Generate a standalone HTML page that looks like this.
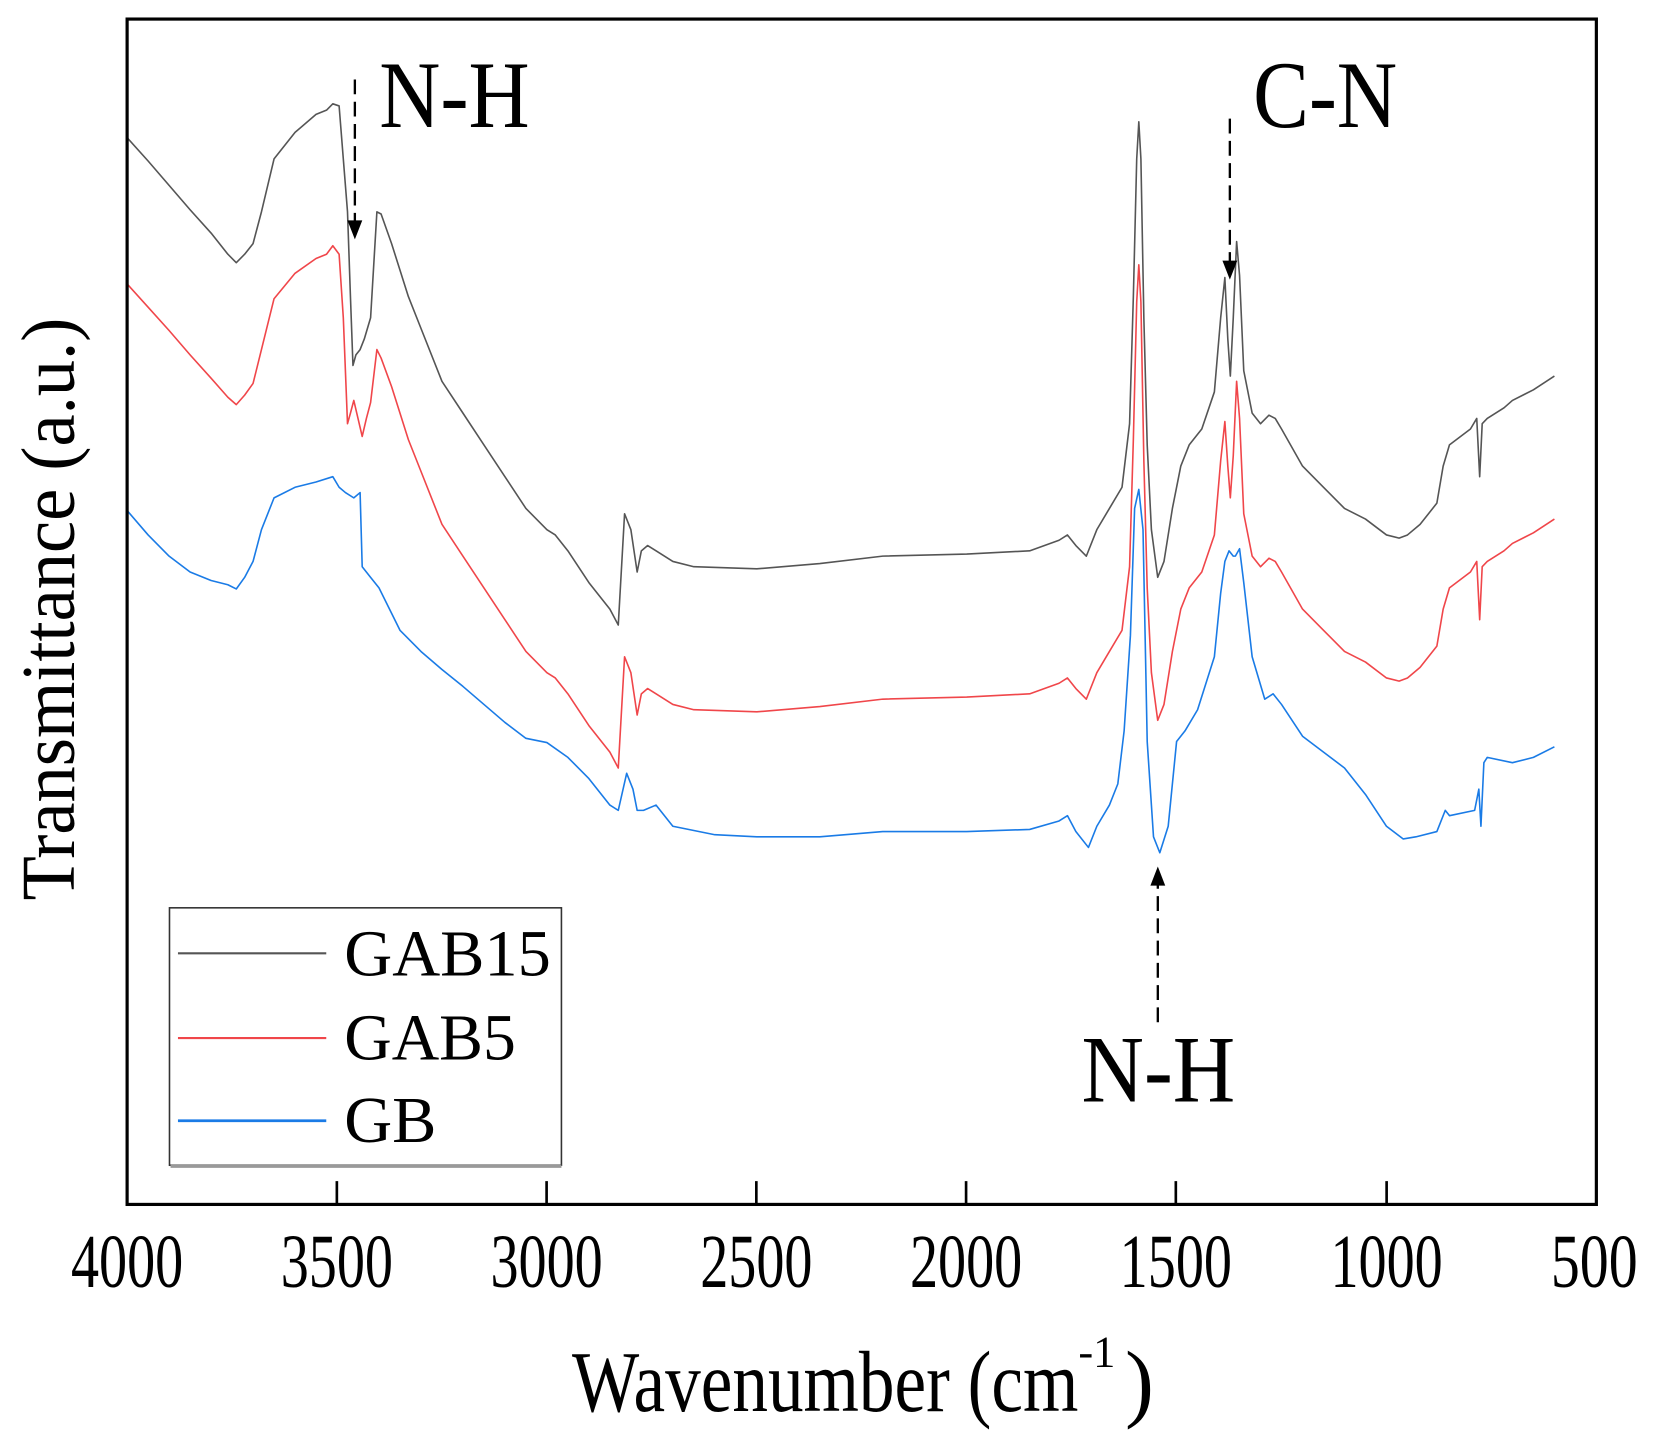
<!DOCTYPE html>
<html><head><meta charset="utf-8"><style>html,body{margin:0;padding:0;background:#fff}svg{display:block}</style></head>
<body>
<svg width="1661" height="1443" viewBox="0 0 1661 1443" xmlns="http://www.w3.org/2000/svg" font-family="'Liberation Serif', serif">
<g transform="scale(1.0593)">
  <g fill="none" stroke-linejoin="round">
    <g transform="translate(120 0) scale(-0.39629 1) translate(-4000 0)">
      <polyline vector-effect="non-scaling-stroke" stroke="#555" stroke-width="1.6" points="4000,130 3950,152 3900,175 3850,198 3800,220 3760,240 3740,248 3720,240 3700,230 3680,200 3650,150 3600,125 3550,108 3525,104 3510,98 3495,100 3485,150 3475,200 3468,280 3462,345 3455,335 3445,330 3435,320 3420,300 3405,200 3395,202 3370,230 3330,280 3300,310 3250,360 3200,390 3150,420 3100,450 3050,480 3000,500 2980,505 2950,520 2900,550 2850,575 2830,590 2815,485 2800,500 2785,540 2775,520 2760,515 2740,520 2700,530 2650,535 2500,537 2350,532 2200,525 2000,523 1850,520 1780,510 1760,505 1740,515 1715,525 1690,500 1660,480 1630,460 1612,400 1603,280 1595,150 1590,115 1585,150 1578,300 1570,420 1560,500 1545,545 1530,530 1510,480 1490,440 1470,420 1440,405 1410,370 1395,300 1385,262 1378,320 1372,355 1365,300 1357,228 1350,260 1340,350 1320,390 1300,400 1280,392 1265,395 1250,405 1200,440 1150,460 1100,480 1050,490 1000,505 970,508 950,505 920,495 880,475 865,440 850,420 800,405 785,395 778,450 772,400 760,395 720,385 700,378 650,368 600,355"/>
      <polyline vector-effect="non-scaling-stroke" stroke="#f0464a" stroke-width="1.6" points="4000,268 3950,290 3900,312 3850,335 3800,357 3760,375 3740,382 3720,373 3700,362 3680,330 3650,282 3600,258 3550,244 3525,240 3510,232 3495,240 3485,300 3475,400 3468,390 3460,378 3450,395 3440,412 3430,395 3420,380 3405,330 3395,338 3370,365 3330,415 3300,445 3250,495 3200,525 3150,555 3100,585 3050,615 3000,635 2980,640 2950,655 2900,685 2850,710 2830,725 2815,620 2800,635 2785,675 2775,655 2760,650 2740,655 2700,665 2650,670 2500,672 2350,667 2200,660 2000,658 1850,655 1780,645 1760,640 1740,650 1715,660 1690,635 1660,615 1630,595 1612,535 1603,415 1595,285 1590,250 1585,285 1578,435 1570,555 1560,635 1545,680 1530,665 1510,615 1490,575 1470,555 1440,540 1410,505 1395,435 1385,398 1378,440 1372,470 1365,430 1357,360 1350,395 1340,485 1320,525 1300,535 1280,527 1265,530 1250,540 1200,575 1150,595 1100,615 1050,625 1000,640 970,643 950,640 920,630 880,610 865,575 850,555 800,540 785,530 778,585 772,535 760,530 720,520 700,513 650,503 600,490"/>
      <polyline vector-effect="non-scaling-stroke" stroke="#1a7be6" stroke-width="1.6" points="4000,482 3950,505 3900,525 3850,540 3800,548 3760,552 3740,556 3720,545 3700,530 3680,500 3650,470 3600,460 3550,455 3510,450 3495,460 3480,465 3460,470 3445,465 3440,535 3420,545 3400,555 3350,595 3300,615 3250,632 3200,648 3150,665 3100,682 3050,697 3000,701 2950,715 2900,735 2850,760 2830,765 2810,730 2795,745 2785,765 2770,765 2740,760 2700,780 2600,788 2500,790 2350,790 2200,785 2000,785 1850,783 1780,775 1760,770 1740,785 1710,800 1690,780 1660,760 1640,740 1625,690 1610,600 1600,480 1590,462 1580,500 1570,700 1555,790 1540,805 1520,780 1500,700 1480,690 1450,670 1410,620 1395,560 1385,530 1375,520 1365,525 1360,525 1350,518 1340,550 1320,620 1290,660 1270,655 1250,665 1200,695 1150,710 1100,725 1050,750 1000,780 960,792 930,790 880,785 860,765 850,770 790,765 780,745 775,780 768,720 760,715 700,720 650,715 600,705"/>
    </g>
  </g>
  <rect x="120" y="18" width="1387" height="1119" fill="none" stroke="#000" stroke-width="3"/>
  <g stroke="#000" stroke-width="2.5">
    <line x1="318" y1="1137" x2="318" y2="1115"/>
    <line x1="516" y1="1137" x2="516" y2="1115"/>
    <line x1="714" y1="1137" x2="714" y2="1115"/>
    <line x1="912" y1="1137" x2="912" y2="1115"/>
    <line x1="1110" y1="1137" x2="1110" y2="1115"/>
    <line x1="1309" y1="1137" x2="1309" y2="1115"/>
  </g>
  <g stroke="#000" stroke-width="2.2" stroke-dasharray="14,7" fill="none">
    <line x1="335" y1="75" x2="335" y2="210"/>
    <line x1="1161" y1="112" x2="1161" y2="248"/>
    <line x1="1093" y1="965" x2="1093" y2="835"/>
  </g>
  <polygon points="328,208 342,208 335,226" fill="#000"/>
  <polygon points="1154,246 1168,246 1161,264" fill="#000"/>
  <polygon points="1086,836 1100,836 1093,818" fill="#000"/>
  <g font-size="90" fill="#000">
    <text x="358" y="120" textLength="142" lengthAdjust="spacingAndGlyphs">N-H</text>
    <text x="1183" y="120" textLength="136" lengthAdjust="spacingAndGlyphs">C-N</text>
    <text x="1021" y="1040" textLength="145" lengthAdjust="spacingAndGlyphs">N-H</text>
  </g>
  <rect x="160" y="857" width="370" height="243" fill="#fff" stroke="#333" stroke-width="1.5"/>
  <line x1="161" y1="1101" x2="530" y2="1101" stroke="#999" stroke-width="3"/>
  <line x1="168" y1="900" x2="308" y2="900" stroke="#555" stroke-width="2"/>
  <line x1="168" y1="980" x2="308" y2="980" stroke="#f0464a" stroke-width="2"/>
  <line x1="168" y1="1058" x2="308" y2="1058" stroke="#1a7be6" stroke-width="2.5"/>
  <g font-size="62" fill="#000">
    <text x="325" y="921" textLength="195" lengthAdjust="spacingAndGlyphs">GAB15</text>
    <text x="325" y="1000" textLength="162" lengthAdjust="spacingAndGlyphs">GAB5</text>
    <text x="325" y="1078" textLength="87" lengthAdjust="spacingAndGlyphs">GB</text>
  </g>
  <g font-size="72" fill="#000" text-anchor="middle">
    <text x="120" y="1215" textLength="106" lengthAdjust="spacingAndGlyphs">4000</text>
    <text x="318" y="1215" textLength="106" lengthAdjust="spacingAndGlyphs">3500</text>
    <text x="516" y="1215" textLength="106" lengthAdjust="spacingAndGlyphs">3000</text>
    <text x="714" y="1215" textLength="106" lengthAdjust="spacingAndGlyphs">2500</text>
    <text x="912" y="1215" textLength="106" lengthAdjust="spacingAndGlyphs">2000</text>
    <text x="1110" y="1215" textLength="106" lengthAdjust="spacingAndGlyphs">1500</text>
    <text x="1309" y="1215" textLength="106" lengthAdjust="spacingAndGlyphs">1000</text>
    <text x="1505" y="1215" textLength="82" lengthAdjust="spacingAndGlyphs">500</text>
  </g>
  <text x="540" y="1332" font-size="82" textLength="478" lengthAdjust="spacingAndGlyphs">Wavenumber (cm</text>
  <text x="1018" y="1290" font-size="42">-1</text>
  <text x="1062" y="1332" font-size="82">)</text>
  <text transform="translate(70 575) rotate(-90)" text-anchor="middle" font-size="72" textLength="550" lengthAdjust="spacingAndGlyphs">Transmittance (a.u.)</text>
</g>
</svg>
</body></html>
